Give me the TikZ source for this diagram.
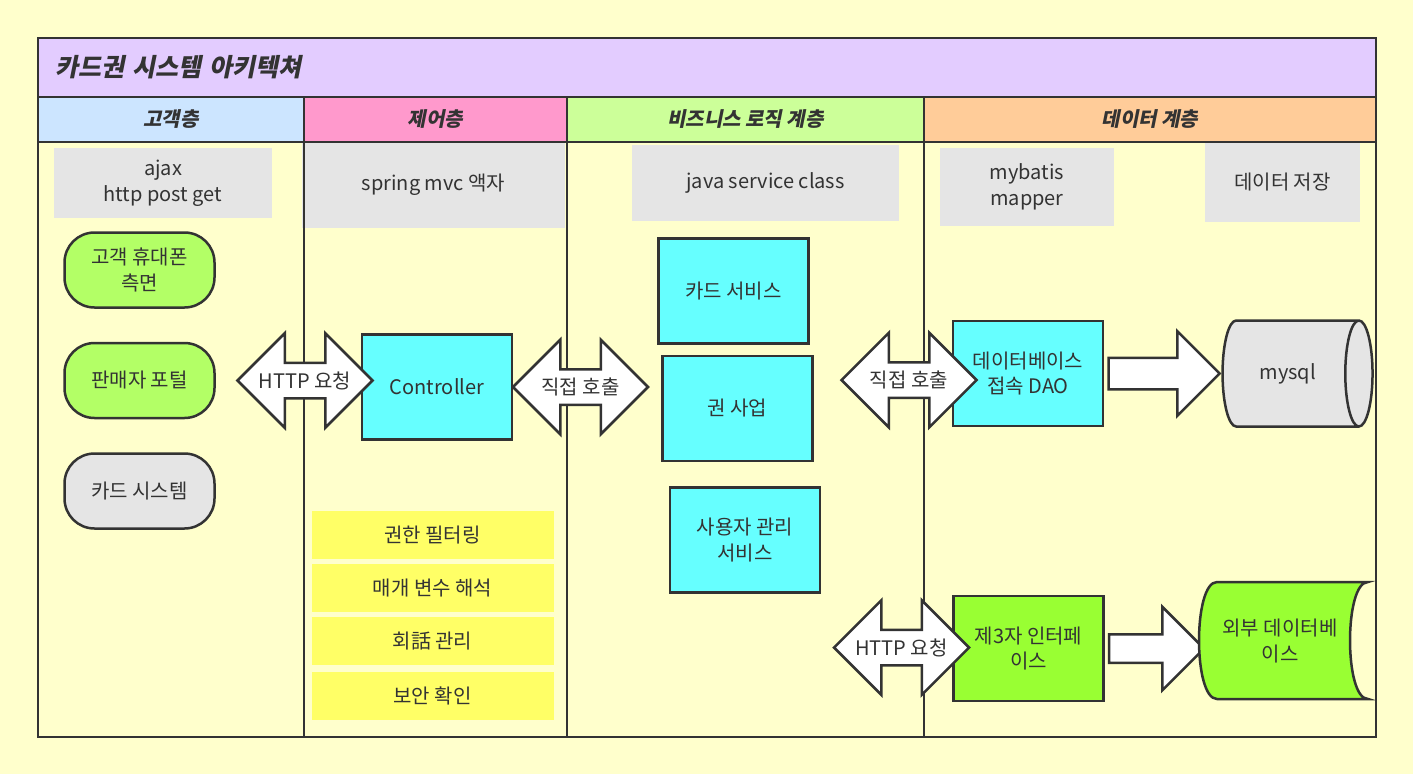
\documentclass[tikz,border=0pt]{standalone}
\usepackage{fontspec}
\setmainfont{Noto Sans CJK KR}
\newfontfamily\headfont[FakeSlant=0.2]{Noto Sans CJK KR}
\usetikzlibrary{arrows.meta, positioning, shapes.geometric, shapes.arrows}
\usepackage{xcolor}
\definecolor{paper}{HTML}{FFFFCC}
\definecolor{ink}{HTML}{333333}
\definecolor{titlebg}{HTML}{E3CCFF}
\definecolor{hdrblue}{HTML}{CCE5FF}
\definecolor{hdrpink}{HTML}{FF99CC}
\definecolor{hdrgreen}{HTML}{CCFF99}
\definecolor{hdrorange}{HTML}{FFCC99}
\definecolor{notegray}{HTML}{E5E5E5}
\definecolor{svccyan}{HTML}{66FFFF}
\definecolor{pillgreen}{HTML}{B3FF66}
\definecolor{limegreen}{HTML}{99FF33}
\definecolor{filteryellow}{HTML}{FFFF66}
\newcommand{\boxfont}{\fontsize{20}{25.5}\selectfont}

\begin{document}
\begin{tikzpicture}[
  x=1pt, y=-1pt,
  frameline/.style={draw=ink, line width=2.5pt},
  hdr/.style={frameline, minimum height=45, outer sep=0pt, inner sep=0pt,
              font=\headfont\bfseries\fontsize{20}{24}\selectfont, text=ink},
  note/.style={fill=notegray, align=center, inner sep=0pt, font=\boxfont, text=ink},
  pill/.style={frameline, rounded corners=30, fill=pillgreen, minimum width=150,
               minimum height=75, align=center, font=\boxfont, text=ink},
  svc/.style={frameline, fill=svccyan, minimum width=150, minimum height=105,
              align=center, font=\boxfont, text=ink},
  filter/.style={fill=filteryellow, minimum width=242, minimum height=48,
                 outer sep=0pt, font=\boxfont, text=ink},
  dbl/.style={double arrow, frameline, fill=white, minimum height=135,
              inner xsep=0pt, inner ysep=16.5, double arrow head extend=29.5,
              double arrow tip angle=90,
              label={[font=\boxfont, text=ink]center:#1}},
  blockarrow/.style={single arrow, frameline, fill=white,
                     single arrow tip angle=90, inner xsep=0pt}
]
\path[fill=paper, use as bounding box] (0,0) rectangle (1413,774);

% title and lane headers
\node[frameline, fill=titlebg, minimum width=1338, minimum height=59, text width=1304,
      inner xsep=17, inner ysep=0, align=left, outer sep=0pt, text=ink,
      font=\headfont\bfseries\fontsize{25}{29}\selectfont] (title) at (707,67.5)
  {카드권 시스템 아키텍쳐};
\node[hdr, fill=hdrblue, minimum width=266, below right=0pt and 0pt of title.south west]
  (clienthdr) {고객층};
\node[hdr, fill=hdrpink, minimum width=263, right=0pt of clienthdr] (ctrlhdr) {제어층};
\node[hdr, fill=hdrgreen, minimum width=357, right=0pt of ctrlhdr] (bizhdr) {비즈니스 로직 계층};
\node[hdr, fill=hdrorange, minimum width=452, right=0pt of bizhdr] (datahdr) {데이터 계층};

% lane notes
\node[note, minimum width=218, minimum height=70] (ajax) at (163,183) {ajax\\http post get};
\node[note, minimum width=263, minimum height=86] (mvc) at (433.5,185) {spring mvc 액자};
\node[note, minimum width=267, minimum height=76] (javasvc) at (765.5,183) {java service class};
\node[note, minimum width=174, minimum height=78] (mapper) at (1027,187) {mybatis\\mapper};
\node[note, minimum width=155, minimum height=79] (storage) at (1282.5,182.5) {데이터 저장};

% lane body
\draw[frameline] (clienthdr.south west) rectangle ++(1338,595);
\foreach \h in {ctrlhdr, bizhdr, datahdr}
  \draw[frameline] (\h.south west) -- ++(0,595);

% client lane
\node[pill] (mobile) at (139.5,270) {고객 휴대폰\\측면};
\node[pill, below=33pt of mobile] (portal) {판매자 포털};
\node[pill, fill=notegray, below=33pt of portal] (cardsys) {카드 시스템};

% control lane
\node[svc] (controller) at (437,387) {Controller};
\node[filter] (authfilter) at (432.5,535) {권한 필터링};
\node[filter, below=5pt of authfilter] (paramparse) {매개 변수 해석};
\node[filter, below=5pt of paramparse] (session) {회話 관리};
\node[filter, below=7pt of session] (security) {보안 확인};

% business lane
\node[svc] (cardsvc) at (733.5,291) {카드 서비스};
\node[svc] (voucher) at (737.5,408.5) {권 사업};
\node[svc] (usersvc) at (745,540) {사용자 관리\\서비스};

% data lane
\node[svc] (dao) at (1028,373.5) {데이터베이스\\접속 DAO};
\node[blockarrow, minimum height=111, inner ysep=14.5, single arrow head extend=26.5,
      right=3pt of dao] (daoarrow) {};
\node[cylinder, frameline, fill=notegray, minimum height=150, minimum width=106,
      aspect=1, font=\boxfont, text=ink, right=0pt of daoarrow] (mysql) {mysql};

\node[svc, fill=limegreen] (thirdparty) at (1028.5,648.5) {제3자 인터페\\이스};
\node[blockarrow, minimum height=95, inner ysep=13, single arrow head extend=27.5,
      right=3pt of thirdparty] (extarrow) {};
\draw[frameline, fill=limegreen] (1217,582) -- (1368,582)
  .. controls (1344,582) and (1344,699) .. (1368,699) -- (1217,699)
  .. controls (1193,699) and (1193,582) .. (1217,582) -- cycle;
\node[font=\boxfont, text=ink, align=center] (extdb) at (1280,641) {외부 데이터베\\이스};

% request arrows
\node[dbl=HTTP 요청] (httpleft) at (305,380.5) {};
\node[dbl=직접 호출] (callleft) at (580.5,387) {};
\node[dbl=직접 호출] (callright) at (909,380) {};
\node[dbl=HTTP 요청] (httpbottom) at (901.5,647.5) {};
\end{tikzpicture}
\end{document}
